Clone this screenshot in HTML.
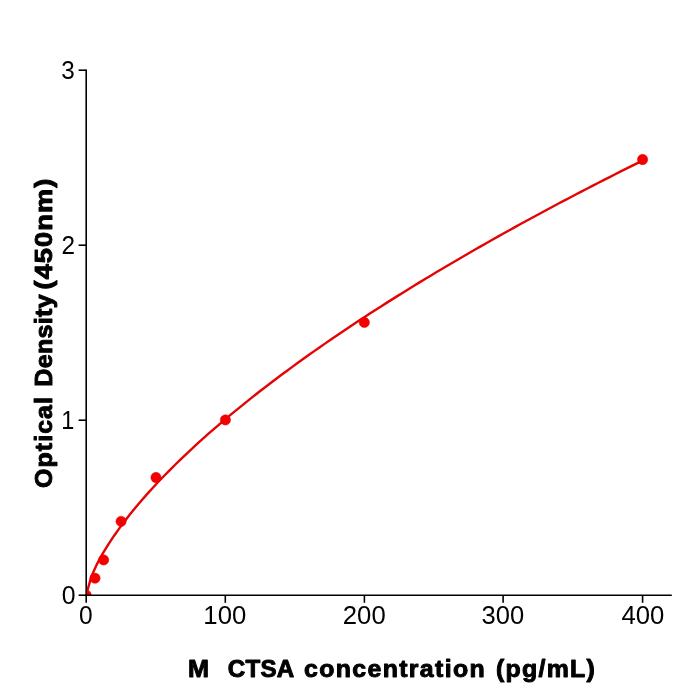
<!DOCTYPE html>
<html><head><meta charset="utf-8"><title>chart</title>
<style>
html,body{margin:0;padding:0;background:#fff;}
body{width:700px;height:700px;overflow:hidden;font-family:"Liberation Sans",sans-serif;}
svg{display:block;}
text{font-family:"Liberation Sans",sans-serif;fill:#000;}
.lab text{font-weight:bold;}
</style></head><body>
<svg width="700" height="700" viewBox="0 0 700 700">
<rect width="700" height="700" fill="#fff"/>
<defs><clipPath id="ax"><rect x="86.1" y="70.1" width="585.6999999999999" height="525.0"/></clipPath></defs>
<g clip-path="url(#ax)">
<path d="M86.10,595.10 L91.66,575.67 L97.23,563.62 L102.79,553.45 L108.36,544.34 L113.92,535.95 L119.48,528.10 L125.05,520.67 L130.61,513.58 L136.18,506.78 L141.74,500.24 L147.30,493.91 L152.87,487.77 L158.43,481.80 L164.00,475.99 L169.56,470.32 L175.12,464.77 L180.69,459.35 L186.25,454.03 L191.82,448.82 L197.38,443.70 L202.94,438.67 L208.51,433.72 L214.07,428.86 L219.64,424.06 L225.20,419.34 L230.76,414.68 L236.33,410.09 L241.89,405.56 L247.46,401.08 L253.02,396.66 L258.58,392.30 L264.15,387.98 L269.71,383.72 L275.28,379.50 L280.84,375.32 L286.40,371.19 L291.97,367.10 L297.53,363.05 L303.10,359.04 L308.66,355.07 L314.22,351.14 L319.79,347.24 L325.35,343.37 L330.92,339.54 L336.48,335.74 L342.04,331.98 L347.61,328.24 L353.17,324.53 L358.74,320.86 L364.30,317.21 L369.86,313.59 L375.43,309.99 L380.99,306.43 L386.56,302.88 L392.12,299.37 L397.68,295.87 L403.25,292.41 L408.81,288.96 L414.38,285.54 L419.94,282.14 L425.50,278.76 L431.07,275.41 L436.63,272.07 L442.20,268.76 L447.76,265.46 L453.32,262.19 L458.89,258.93 L464.45,255.70 L470.02,252.48 L475.58,249.28 L481.14,246.10 L486.71,242.94 L492.27,239.79 L497.84,236.67 L503.40,233.56 L508.96,230.46 L514.53,227.38 L520.09,224.32 L525.66,221.27 L531.22,218.24 L536.78,215.23 L542.35,212.23 L547.91,209.24 L553.48,206.27 L559.04,203.31 L564.60,200.37 L570.17,197.44 L575.73,194.53 L581.30,191.63 L586.86,188.74 L592.42,185.86 L597.99,183.00 L603.55,180.15 L609.12,177.32 L614.68,174.49 L620.24,171.68 L625.81,168.88 L631.37,166.09 L636.94,163.32 L642.50,160.56" fill="none" stroke="#e40404" stroke-width="2.4" stroke-linejoin="round"/>
<g fill="#f50000" stroke="#e30000" stroke-width="0.5">
<circle cx="86.1" cy="595.1" r="5.15"/>
<circle cx="95.0" cy="578.2" r="5.15"/>
<circle cx="103.6" cy="559.9" r="5.15"/>
<circle cx="121.1" cy="521.3" r="5.15"/>
<circle cx="156.0" cy="477.5" r="5.15"/>
<circle cx="225.4" cy="419.9" r="5.15"/>
<circle cx="364.3" cy="322.4" r="5.15"/>
<circle cx="642.6" cy="159.5" r="5.15"/>
</g>
</g>
<g stroke="#000" stroke-width="1.6" stroke-linecap="butt">
<line x1="86.2" y1="69.40" x2="86.2" y2="596.00"/>
<line x1="85.40" y1="595.2" x2="671.8" y2="595.2"/>
<line x1="86.2" y1="595.2" x2="86.2" y2="602.8"/>
<line x1="225.3" y1="595.2" x2="225.3" y2="602.8"/>
<line x1="364.4" y1="595.2" x2="364.4" y2="602.8"/>
<line x1="503.1" y1="595.2" x2="503.1" y2="602.8"/>
<line x1="642.6" y1="595.2" x2="642.6" y2="602.8"/>
<line x1="78.6" y1="595.2" x2="86.2" y2="595.2"/>
<line x1="78.6" y1="420.2" x2="86.2" y2="420.2"/>
<line x1="78.6" y1="245.2" x2="86.2" y2="245.2"/>
<line x1="78.6" y1="70.2" x2="86.2" y2="70.2"/>
</g>
<g class="tick" opacity="0.999">
<text transform="translate(79.12,623.60) scale(0.9717,1)" font-size="25.3" style="letter-spacing:0.000px">0</text>
<text transform="translate(203.34,623.60) scale(1.0175,1)" font-size="25.3" style="letter-spacing:0.000px">100</text>
<text transform="translate(342.82,623.60) scale(1.0157,1)" font-size="25.3" style="letter-spacing:0.000px">200</text>
<text transform="translate(481.58,623.60) scale(1.0093,1)" font-size="25.3" style="letter-spacing:0.000px">300</text>
<text transform="translate(621.49,623.60) scale(1.0164,1)" font-size="25.3" style="letter-spacing:0.000px">400</text>
<text transform="translate(61.33,78.70) scale(0.9587,1)" font-size="25.3" style="letter-spacing:0.000px">3</text>
<text transform="translate(61.48,253.70) scale(0.9624,1)" font-size="25.3" style="letter-spacing:0.000px">2</text>
<text transform="translate(61.32,428.70) scale(0.9284,1)" font-size="25.3" style="letter-spacing:0.000px">1</text>
<text transform="translate(61.71,603.70) scale(0.9799,1)" font-size="25.3" style="letter-spacing:0.000px">0</text>
</g>
<g class="lab" opacity="0.999" stroke="#000" stroke-width="0.948" stroke-linejoin="round">
<text transform="translate(188.04,677.15) scale(1.0663,1)" font-size="23.7" style="letter-spacing:0.000px">M</text>
<text transform="translate(227.72,677.15) scale(1.0200,1)" font-size="23.7" style="letter-spacing:0.252px">CTSA</text>
<text transform="translate(304.10,677.15) scale(1.0500,1)" font-size="23.7" style="letter-spacing:1.278px">concentration</text>
<text transform="translate(495.95,677.15) scale(1.0500,1)" font-size="23.7" style="letter-spacing:1.233px">(pg/mL)</text>
<text transform="translate(51.80,488.00) rotate(-90) scale(1.0500,1)" font-size="23.7" style="letter-spacing:1.061px">Optical</text>
<text transform="translate(51.80,386.76) rotate(-90) scale(1.0600,1)" font-size="23.7" style="letter-spacing:0.285px">Density</text>
<text transform="translate(51.80,289.52) rotate(-90) scale(1.1500,1)" font-size="23.7" style="letter-spacing:0.939px">(450nm)</text>
</g>
</svg>
</body></html>
